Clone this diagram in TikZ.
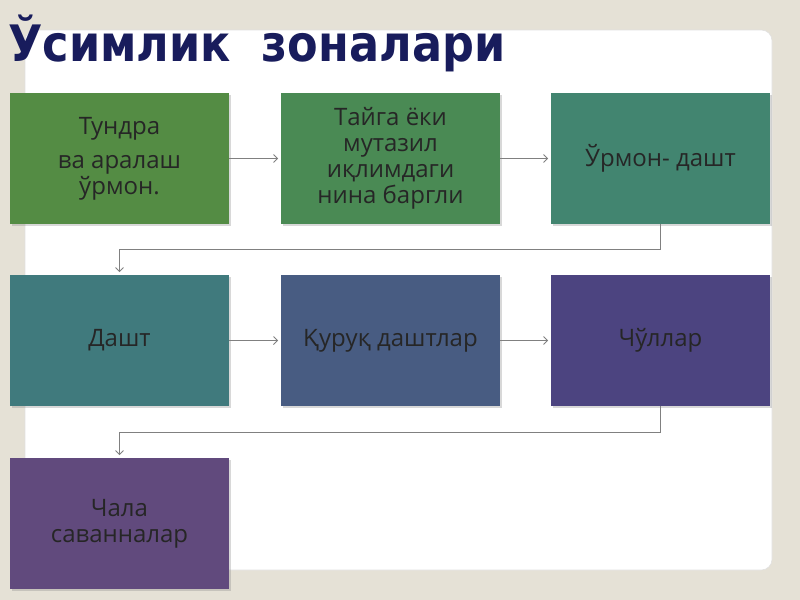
\documentclass[tikz,border=0pt]{standalone}
\usepackage{fontspec}
\setmainfont{Open Sans}
\newfontfamily\titlefont{DejaVu Sans}
\usetikzlibrary{arrows.meta,shadows}
\definecolor{bgc}{RGB}{229,225,214}
\definecolor{titlec}{RGB}{24,28,92}
\definecolor{cA}{RGB}{84,140,68}
\definecolor{cB}{RGB}{74,138,84}
\definecolor{cC}{RGB}{66,133,112}
\definecolor{cD}{RGB}{64,122,125}
\definecolor{cE}{RGB}{72,92,130}
\definecolor{cF}{RGB}{76,68,128}
\definecolor{cG}{RGB}{97,74,125}
\tikzset{
  zbox/.style={minimum width=164.25pt, minimum height=98.25pt, inner sep=0pt,
    align=center, font=\fontsize{18}{19.5}\selectfont, text=black!85,
    drop shadow={opacity=0.3, shadow xshift=1.2pt, shadow yshift=-1.2pt}},
  arr/.style={draw=black!50, line width=0.6pt, -{Straight Barb[length=3pt,width=6pt]}, shorten >=2pt},
}
\begin{document}
\begin{tikzpicture}[x=0.75pt,y=-0.75pt]
\useasboundingbox (0,0) rectangle (800,600);
\fill[bgc] (0,0) rectangle (800,600);
\draw[draw=black!12, fill=white, rounded corners=8pt] (25,30) rectangle (772,570);
\node[anchor=north west, inner sep=0pt, text=titlec] (title) at (8,15)
  {\resizebox*{372.75pt}{42.75pt}{\titlefont\bfseries Ўсимлик\ \ зоналари}};
\node[zbox, fill=cA] (b1) at (119.5,158.5) {Тундра\\[6pt] ва аралаш\\ ўрмон.};
\node[zbox, fill=cB] (b2) at (390.5,158.5) {Тайга ёки\\ мутазил\\ иқлимдаги\\ нина баргли};
\node[zbox, fill=cC] (b3) at (660.5,158.5) {Ўрмон- дашт};
\node[zbox, fill=cD] (b4) at (119.5,340.5) {Дашт};
\node[zbox, fill=cE] (b5) at (390.5,340.5) {Қуруқ даштлар};
\node[zbox, fill=cF] (b6) at (660.5,340.5) {Чўллар};
\node[zbox, fill=cG] (b7) at (119.5,523.5) {Чала\\ саванналар};
\draw[arr] (b1.east) -- (b2.west);
\draw[arr] (b2.east) -- (b3.west);
\draw[arr] (b3.south) -- ++(0,25) -| (b4.north);
\draw[arr] (b4.east) -- (b5.west);
\draw[arr] (b5.east) -- (b6.west);
\draw[arr] (b6.south) -- ++(0,26) -| (b7.north);
\end{tikzpicture}
\end{document}
